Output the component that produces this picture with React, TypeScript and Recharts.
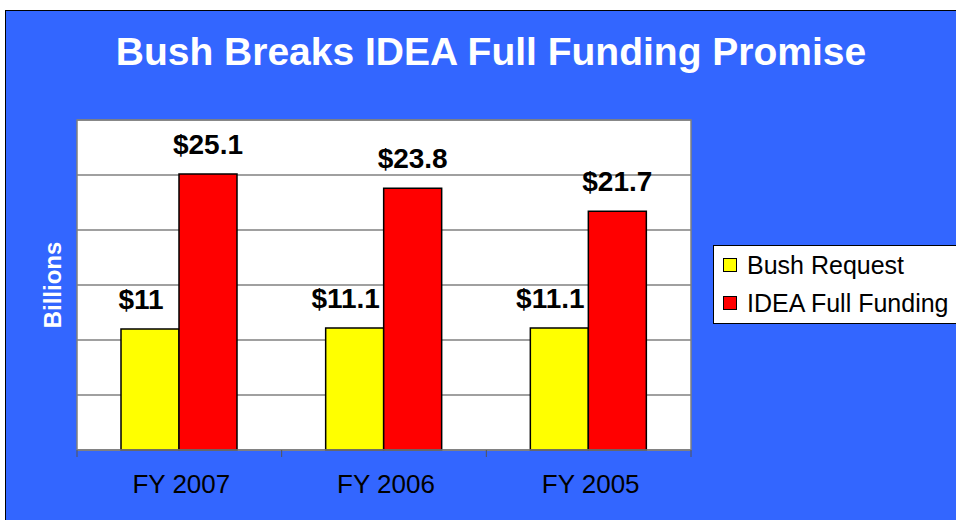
import React from 'react';
import { BarChart, Bar, XAxis, YAxis, CartesianGrid, LabelList, ReferenceArea } from 'recharts';

const categories = ['FY 2007', 'FY 2006', 'FY 2005'];
const bushRequest = [11, 11.1, 11.1];
const ideaFullFunding = [25.1, 23.8, 21.7];
const yTicks = [0, 5, 10, 15, 20, 25, 30];
const seriesNames = ['Bush Request', 'IDEA Full Funding'];
const seriesColors = ['#FFFF00', '#FF0000'];

const data = categories.map((cat, i) => ({
  cat,
  bush: bushRequest[i],
  idea: ideaFullFunding[i]
}));

const W = 956;
const H = 520;
const M = { top: 120, left: 77, right: 265, bottom: 30 };
const FONT = '"Liberation Sans", Arial, sans-serif';
const band = (W - M.left - M.right) / categories.length;

const CategoryTick = (props: any) => {
  const { x, y, payload, index } = props;
  return (
    <g>
      <line x1={x - band / 2} x2={x - band / 2} y1={y} y2={y + 7} stroke="#555" strokeWidth={1} />
      {index === categories.length - 1 && (
        <line x1={x + band / 2} x2={x + band / 2} y1={y} y2={y + 7} stroke="#555" strokeWidth={1} />
      )}
      <text x={x + 2} y={y + 43} textAnchor="middle" fontSize={26} fontFamily={FONT} fill="#000">
        {payload.value}
      </text>
    </g>
  );
};

const LegendBox = () => (
  <div
    style={{
      position: 'absolute',
      left: 713,
      top: 245,
      background: '#fff',
      border: '1px solid #000',
      width: 260,
      height: 79,
      boxSizing: 'border-box',
      paddingLeft: 9,
      paddingTop: 3,
      fontFamily: FONT,
      fontSize: 25,
      color: '#000'
    }}
  >
    {seriesNames.map((name, i) => (
      <div key={name} style={{ display: 'flex', alignItems: 'center', height: 32, marginBottom: 6, whiteSpace: 'nowrap' }}>
        <span
          style={{
            display: 'inline-block',
            width: 12,
            height: 12,
            background: seriesColors[i],
            border: '1px solid #000',
            marginRight: 10
          }}
        />
        {name}
      </div>
    ))}
  </div>
);

const labelStyle = { fontSize: 28, fontWeight: 'bold', fontFamily: FONT, fill: '#000' };

export default function App() {
  return (
    <div style={{ position: 'absolute', left: 0, top: 0, width: W, height: H, overflow: 'hidden', background: '#fff' }}>
      <div
        style={{
          position: 'absolute',
          left: 5,
          top: 10,
          width: W - 5,
          height: H - 10,
          background: '#3366FF',
          borderLeft: '1px solid #000',
          borderTop: '1px solid #000',
          boxSizing: 'border-box'
        }}
      />
      <div
        style={{
          position: 'absolute',
          left: 0,
          top: 30,
          width: 982,
          textAlign: 'center',
          color: '#fff',
          fontFamily: FONT,
          fontWeight: 'bold',
          fontSize: 39
        }}
      >
        Bush Breaks IDEA Full Funding Promise
      </div>
      <div
        style={{
          position: 'absolute',
          left: 53,
          top: 285,
          transform: 'translate(-50%, -50%) rotate(-90deg)',
          color: '#fff',
          fontFamily: FONT,
          fontWeight: 'bold',
          fontSize: 24,
          whiteSpace: 'nowrap'
        }}
      >
        Billions
      </div>
      <div style={{ position: 'absolute', left: 0, top: 0 }}>
        <BarChart width={W} height={H} data={data} margin={M} barGap={0} barCategoryGap="21.5%">
          <CartesianGrid vertical={false} stroke="#808080" strokeWidth={1.5} fill="#fff" fillOpacity={1} />
          <YAxis hide domain={[0, 30]} ticks={yTicks} />
          <XAxis
            dataKey="cat"
            height={40}
            stroke="#808080"
            strokeWidth={1.5}
            tickLine={false}
            tickSize={0}
            tickMargin={0}
            interval={0}
            tick={<CategoryTick />}
          />
          <ReferenceArea y1={0} y2={30} fill="none" stroke="#808080" strokeWidth={1.5} />
          <Bar dataKey="bush" name={seriesNames[0]} fill={seriesColors[0]} stroke="#000" strokeWidth={1.5} isAnimationActive={false}>
            <LabelList
              dataKey="bush"
              position="top"
              offset={20}
              dx={-9}
              formatter={(v: any) => `$${v}`}
              style={labelStyle}
            />
          </Bar>
          <Bar dataKey="idea" name={seriesNames[1]} fill={seriesColors[1]} stroke="#000" strokeWidth={1.5} isAnimationActive={false}>
            <LabelList
              dataKey="idea"
              position="top"
              offset={20}
              formatter={(v: any) => `$${v}`}
              style={labelStyle}
            />
          </Bar>
        </BarChart>
      </div>
      <LegendBox />
    </div>
  );
}
